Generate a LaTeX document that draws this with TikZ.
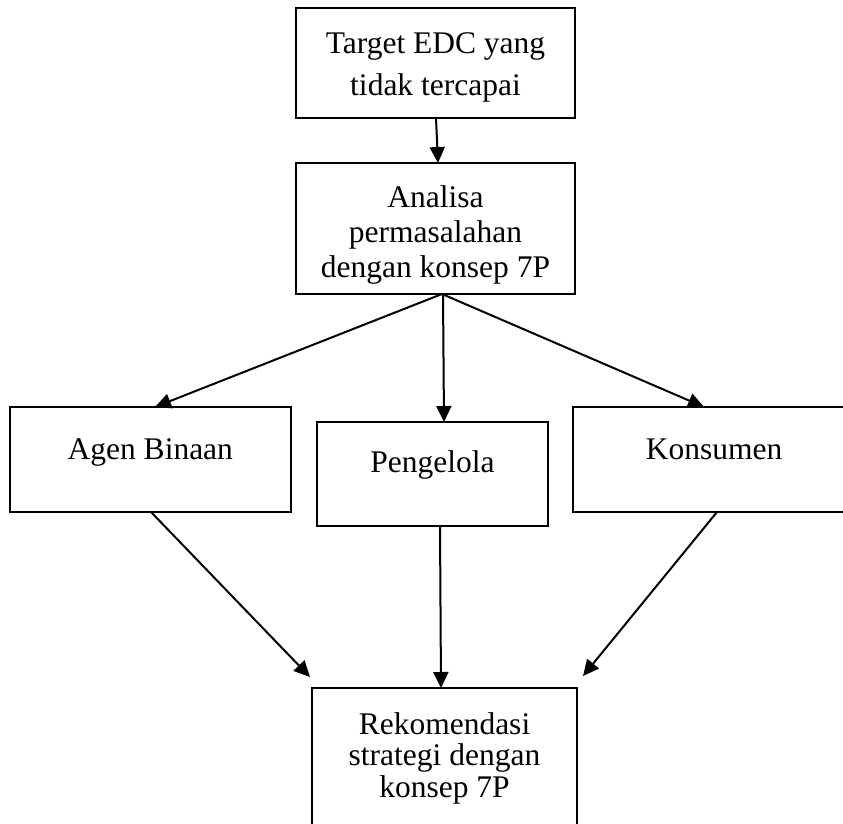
\documentclass[tikz,border=0pt]{standalone}
\usepackage{fontspec}
\setmainfont{Liberation Serif}
\usetikzlibrary{arrows.meta}
\begin{document}
\begin{tikzpicture}[x=1pt,y=-1pt,
  box/.style={draw, line width=2pt, inner sep=0pt, outer sep=0pt, rectangle},
  lbl/.style={font=\fontsize{31.5}{35}\selectfont, align=center, inner sep=0pt},
  arr/.style={line width=2pt, -{Triangle[length=16pt,width=15pt]}}]
\useasboundingbox (0,0) rectangle (843,823);
\clip (0,0) rectangle (843,823);
\fill[white] (0,0) rectangle (843,823);
% boxes
\node[box, minimum width=279pt, minimum height=110pt] (top) at (435.5,63) {};
\node[box, minimum width=279pt, minimum height=131pt] (ana) at (435.5,228.5) {};
\node[box, minimum width=281pt, minimum height=105pt] (agen) at (150.5,459.5) {};
\node[box, minimum width=231pt, minimum height=104pt] (peng) at (432.5,474) {};
\node[box, minimum width=280pt, minimum height=105pt] (kons) at (713,459.5) {};
\node[box, minimum width=265pt, minimum height=172pt] (rek) at (444.5,774) {};
% texts
\node[lbl, font=\fontsize{31.5}{42}\selectfont] (topt) at (435.5,67) {Target EDC yang\\tidak tercapai};
\node[lbl] (anat) at (435.5,235) {Analisa\\permasalahan\\dengan konsep 7P};
\node[lbl, anchor=base] (agent) at (150.3,459) {Agen Binaan};
\node[lbl, anchor=base] (pengt) at (432.5,472.7) {Pengelola};
\node[lbl, anchor=base] (konst) at (714,459) {Konsumen};
\node[lbl, font=\fontsize{31.5}{31.5}\selectfont] (rekt) at (444.5,758) {Rekomendasi\\strategi dengan\\konsep 7P};
% arrow ends
\coordinate (a5e) at (310,677);
\coordinate (a7e) at (583,676);
% connectors
\draw[arr] (top.south -| 436,0) -- (ana.north -| 438,0);
\draw[arr] (ana.south -| 442,0) -- (agen.north -| 155,0);
\draw[arr] (ana.south -| 443,0) -- (peng.north -| 444,0);
\draw[arr] (ana.south -| 442,0) -- (kons.north -| 704,0);
\draw[arr] (agen.south -| 151,0) -- (a5e);
\draw[arr] (peng.south -| 440,0) -- (rek.north -| 441,0);
\draw[arr] (kons.south -| 717,0) -- (a7e);
\end{tikzpicture}
\end{document}
